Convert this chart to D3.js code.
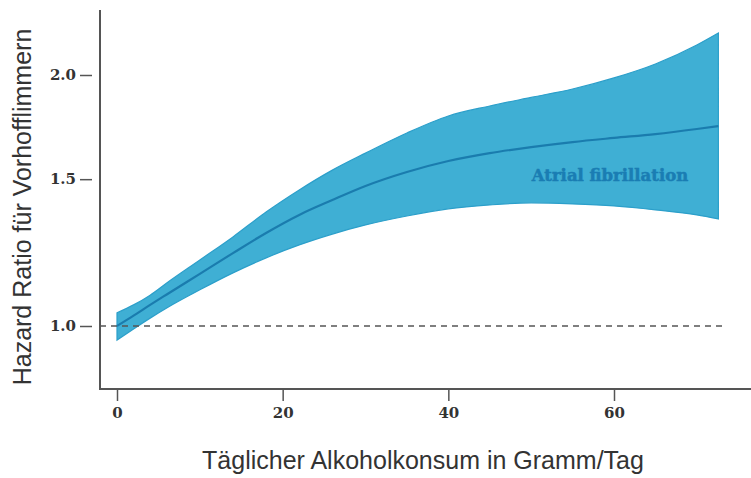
<!DOCTYPE html>
<html>
<head>
<meta charset="utf-8">
<script src="https://cdn.jsdelivr.net/npm/d3@7"></script>
<style>
  body { margin: 0; background: #fff; }
  svg { display: block; }
</style>
</head>
<body>
<div id="chart"></div>
<script>
// daily alcohol (g/day) and hazard ratio with confidence band
var dose  = [0,     2,     4,     6,     10,    14,    18,    22,    26,    30,    35,    40,    45,    50,    55,    60,    65,    70,    72.6];
var hr    = [1.000, 1.029, 1.060, 1.091, 1.155, 1.223, 1.293, 1.359, 1.416, 1.472, 1.530, 1.577, 1.612, 1.639, 1.662, 1.681, 1.699, 1.723, 1.737];
var upper = [1.037, 1.060, 1.089, 1.126, 1.200, 1.279, 1.370, 1.456, 1.538, 1.612, 1.704, 1.786, 1.836, 1.880, 1.924, 1.984, 2.062, 2.173, 2.246];
var lower = [0.962, 0.992, 1.022, 1.051, 1.105, 1.158, 1.207, 1.251, 1.289, 1.322, 1.355, 1.382, 1.397, 1.405, 1.401, 1.393, 1.378, 1.359, 1.344];
var xTicks = [0, 20, 40, 60];
var yTicks = [1.0, 1.5, 2.0];
var seriesLabel = "Atrial fibrillation";
var xTitle = "Täglicher Alkoholkonsum in Gramm/Tag";
var yTitle = "Hazard Ratio für Vorhofflimmern";

var W = 751, H = 478;
var svg = d3.select("#chart").append("svg")
    .attr("width", W)
    .attr("height", H);

var x = d3.scaleLinear().domain([0, 60]).range([117, 614]);
var y = d3.scaleLog().domain([1, 2]).range([326, 75]);

var axisColor = "#555";
var serif = '"DejaVu Serif", "Liberation Serif", serif';
var sans = '"Liberation Sans", Arial, sans-serif';

// confidence band
var area = d3.area()
    .x(function (d, i) { return x(dose[i]); })
    .y0(function (d, i) { return y(lower[i]); })
    .y1(function (d, i) { return y(upper[i]); })
    .curve(d3.curveMonotoneX);

svg.append("path")
    .datum(dose)
    .attr("d", area)
    .style("fill", "#3fafd4")
    .style("stroke", "#2c9fca")
    .style("stroke-width", 1.2);

// reference line at HR = 1
svg.append("line")
    .attr("x1", 100).attr("x2", 727)
    .attr("y1", y(1)).attr("y2", y(1))
    .style("stroke", axisColor)
    .style("stroke-width", 1.6)
    .style("stroke-dasharray", "6,5");

// estimate
var line = d3.line()
    .x(function (d, i) { return x(dose[i]); })
    .y(function (d, i) { return y(hr[i]); })
    .curve(d3.curveMonotoneX);

svg.append("path")
    .datum(dose)
    .attr("d", line)
    .style("fill", "none")
    .style("stroke", "#1a7cae")
    .style("stroke-width", 2.2);

svg.append("text")
    .attr("x", 610)
    .attr("y", 181)
    .style("text-anchor", "middle")
    .style("font", "bold 16.5px " + serif)
    .style("fill", "#1a7db3")
    .style("stroke", "#1a7db3")
    .style("stroke-width", 0.5)
    .text(seriesLabel);

// axis lines
svg.append("line")
    .attr("x1", 100).attr("x2", 100)
    .attr("y1", 10).attr("y2", 389)
    .style("stroke", axisColor).style("stroke-width", 2);
svg.append("line")
    .attr("x1", 99).attr("x2", W)
    .attr("y1", 389).attr("y2", 389)
    .style("stroke", axisColor).style("stroke-width", 2);

var yAxis = svg.append("g")
    .attr("transform", "translate(92,0)")
    .call(d3.axisLeft(y).tickValues(yTicks).tickSize(12).tickPadding(4)
        .tickFormat(d3.format(".1f")));
yAxis.select(".domain").remove();

var xAxis = svg.append("g")
    .attr("transform", "translate(0,389)")
    .call(d3.axisBottom(x).tickValues(xTicks).tickSize(12).tickPadding(6)
        .tickFormat(d3.format("d")));
xAxis.select(".domain").remove();

[yAxis, xAxis].forEach(function (g) {
    g.selectAll("line").style("stroke", axisColor).style("stroke-width", 1.5);
    g.selectAll("text")
        .style("font", "bold 15px " + serif)
        .style("fill", "#333");
});

// titles
svg.append("text")
    .attr("transform", "translate(31,207) rotate(-90)")
    .style("text-anchor", "middle")
    .style("font", "25px " + sans)
    .style("fill", "#333")
    .text(yTitle);

svg.append("text")
    .attr("x", 423)
    .attr("y", 469)
    .style("text-anchor", "middle")
    .style("font", "25px " + sans)
    .style("fill", "#333")
    .text(xTitle);
</script>
</body>
</html>
